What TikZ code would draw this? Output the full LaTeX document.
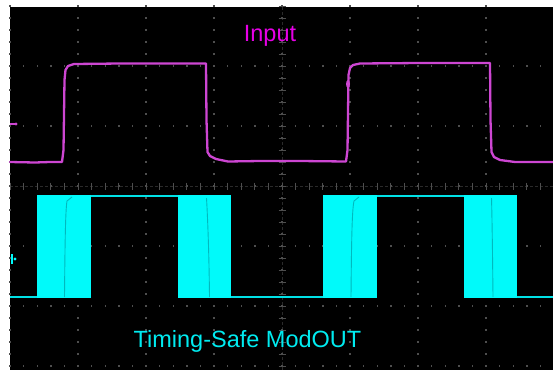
\documentclass[tikz,border=0pt]{standalone}
\usepackage{fontspec}
\setmainfont{Liberation Sans}
\definecolor{inmag}{RGB}{230,0,230}
\definecolor{tracemag}{RGB}{205,70,210}
\definecolor{outcyan}{RGB}{0,235,240}
\definecolor{tracecyan}{RGB}{0,250,250}
\definecolor{linecyan}{RGB}{0,225,230}
\definecolor{edgecyan}{RGB}{0,185,190}
\definecolor{griddot}{RGB}{78,78,78}
\definecolor{gridline}{RGB}{42,42,42}
\tikzset{
  gdot/.style={fill=griddot},
  axistick/.style={draw=griddot, line width=0.8pt},
  magtrace/.style={draw=tracemag, line width=2.3pt, line join=round, line cap=round},
  cyantrace/.style={draw=linecyan, line width=1.8pt, line join=round},
  cyanblock/.style={fill=tracecyan},
  cyanedge/.style={draw=edgecyan, line width=0.9pt},
  lbl/.style={font=\fontsize{23.5}{24}\selectfont, anchor=base, inner sep=0pt}
}
\begin{document}
\begin{tikzpicture}[x=1pt,y=-1pt]
\useasboundingbox (0,0) rectangle (553,370);
\fill[white] (0,0) rectangle (553,370);
\fill[black] (10,7) rectangle (553,370);
% centre axes
\draw[draw=gridline, line width=0.6pt, dash pattern=on 3pt off 2pt] (10,186) -- (553,186);
\draw[draw=gridline, line width=0.6pt, dash pattern=on 3pt off 2pt] (282,7) -- (282,370);
% grid: vertical dotted lines
\foreach \k in {0,...,7} {
  \foreach \m in {0,...,30} {
    \fill[gdot] ({10+68*\k-0.7},{6+12*\m-0.7}) rectangle ++(1.4,1.4);
  }
}
% grid: horizontal dotted lines
\foreach \k in {1,...,6} {
  \foreach \m in {0,...,40} {
    \fill[gdot] ({10+13.6*\m-0.7},{6+60*\k-0.7}) rectangle ++(1.4,1.4);
  }
}
\foreach \m in {0,...,40} {
  \draw[axistick] ({10+13.6*\m},182.5) -- ({10+13.6*\m},189.5);
}
\foreach \m in {0,...,30} {
  \draw[axistick] (278.5,{6+12*\m}) -- (285.5,{6+12*\m});
}
% ground markers
\draw[draw=tracemag, line width=1.6pt] (10,124) -- (15,124);
\fill[tracemag] (16,124) circle (1.6pt);
\draw[draw=tracecyan, line width=1.2pt] (12,254) -- (12,264);
\fill[tracecyan] (15,259) circle (1.6pt);
% input trace
\draw[magtrace] (10,162) -- (35,162.5) -- (50,162) -- (62,162) -- (63.5,150)
  -- (64.5,80) -- (65.5,70) -- (68,66) -- (74,64) -- (120,63.5) -- (180,63.5)
  -- (206,63.5) -- (206.5,120) -- (207.5,152) -- (210,156) -- (216,159)
  -- (228,161.5) -- (260,161) -- (300,161) -- (346,161.5) -- (347.5,150)
  -- (348.5,75) -- (350,68) -- (353,65) -- (360,63.5) -- (420,63) -- (490,63)
  -- (490.5,120) -- (491.5,152) -- (494,157) -- (500,160) -- (515,162)
  -- (553,162);
\fill[tracemag] (348,84) ellipse (2pt and 4pt);
% output trace
\draw[cyantrace] (10,297) -- (36.7,297);
\draw[cyantrace] (91,196) -- (178,196);
\draw[cyantrace] (231,297) -- (323,297);
\draw[cyantrace] (377,196) -- (464,196);
\draw[cyantrace] (517,297) -- (553,297);
\fill[cyanblock] (36.7,194.5) rectangle (91,298);
\fill[cyanblock] (178,194.5) rectangle (231,298);
\fill[cyanblock] (323,194.5) rectangle (377,298);
\fill[cyanblock] (464,194.5) rectangle (517,298);
\draw[cyanedge] (64.5,297) .. controls (65,240) and (65.5,210) .. (67,201) -- (72,197);
\draw[cyanedge] (209.5,297) .. controls (209,250) and (207.5,215) .. (206.5,198);
\draw[cyanedge] (351,297) .. controls (351.5,240) and (352,210) .. (354,201) -- (359,197);
\draw[cyanedge] (493,297) .. controls (492.5,250) and (492,215) .. (491.5,198);
% labels
\node[lbl, text=inmag] (lblin) at (270,41) {Input};
\node[lbl, text=outcyan] (lblout) at (247.5,347) {Timing-Safe ModOUT};
\end{tikzpicture}
\end{document}
